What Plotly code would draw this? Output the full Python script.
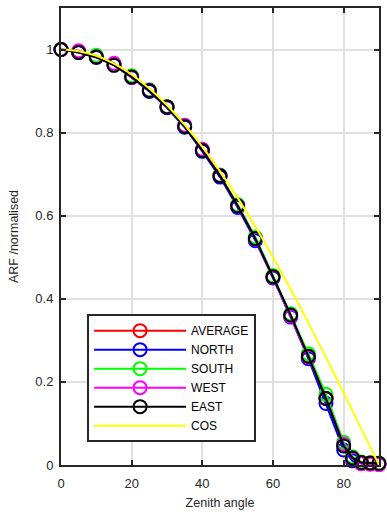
import plotly.graph_objects as go

angles = [0, 5, 10, 15, 20, 25, 30, 35, 40, 45, 50, 55, 60, 65, 70, 75, 80, 82.5, 85, 87.5, 90]
average = [1.0, 0.994, 0.982, 0.964, 0.934, 0.902, 0.862, 0.815, 0.758, 0.696, 0.624, 0.545, 0.453, 0.360, 0.262, 0.160, 0.048, 0.018, 0.006, 0.005, 0.003]
north = [1.0, 0.993, 0.981, 0.963, 0.933, 0.899, 0.860, 0.813, 0.755, 0.693, 0.620, 0.540, 0.450, 0.356, 0.256, 0.148, 0.036, 0.010, 0.004, 0.003, 0.002]
south = [1.0, 0.995, 0.986, 0.965, 0.937, 0.903, 0.863, 0.816, 0.759, 0.698, 0.627, 0.549, 0.456, 0.364, 0.268, 0.170, 0.055, 0.020, 0.007, 0.005, 0.004]
west = [1.0, 0.997, 0.982, 0.967, 0.933, 0.902, 0.862, 0.818, 0.760, 0.697, 0.624, 0.544, 0.452, 0.358, 0.260, 0.160, 0.050, 0.015, 0.003, 0.002, 0.001]
east = [1.0, 0.993, 0.982, 0.962, 0.934, 0.901, 0.862, 0.815, 0.757, 0.696, 0.624, 0.545, 0.453, 0.361, 0.262, 0.160, 0.046, 0.017, 0.006, 0.005, 0.004]

cos_angles = [0, 5, 10, 15, 20, 25, 30, 35, 40, 45, 50, 55, 60, 65, 70, 75, 80, 85, 90]
cos_values = [1.0, 0.996, 0.985, 0.966, 0.940, 0.906, 0.866, 0.819, 0.766, 0.707, 0.643, 0.574, 0.500, 0.423, 0.342, 0.259, 0.174, 0.087, 0.0]

series = [
    ("AVERAGE", average, "#ff0000"),
    ("NORTH", north, "#0000ff"),
    ("SOUTH", south, "#00ff00"),
    ("WEST", west, "#ff00ff"),
    ("EAST", east, "#000000"),
]

fig = go.Figure()
for name, vals, col in series:
    fig.add_trace(go.Scatter(
        x=angles, y=vals, name=name, mode="lines+markers",
        line=dict(color=col, width=2),
        marker=dict(symbol="circle-open", size=13, color=col, line=dict(width=2, color=col)),
        cliponaxis=False,
    ))
fig.add_trace(go.Scatter(
    x=cos_angles, y=cos_values, name="COS", mode="lines",
    line=dict(color="#ffff00", width=2), line_shape="spline",
    cliponaxis=False,
))

axis_common = dict(
    showline=True, linecolor="#262626", linewidth=2, mirror="allticks",
    ticks="inside", ticklen=5, tickwidth=2, tickcolor="#262626",
    showgrid=True, gridcolor="#e0e0e0", gridwidth=2,
    zeroline=False, tickfont=dict(size=13, color="#262626"),
)

fig.update_layout(
    width=387, height=518,
    margin=dict(l=61, r=8, t=6, b=53),
    paper_bgcolor="white", plot_bgcolor="white",
    font=dict(family="Liberation Sans, Arial, sans-serif", size=12, color="#262626"),
    xaxis=dict(range=[0, 90], tickvals=[0, 20, 40, 60, 80], ticklabelstandoff=5,
               title=dict(text="Zenith angle", standoff=9, font=dict(size=12.5)), **axis_common),
    yaxis=dict(range=[0, 1.1], tickvals=[0, 0.2, 0.4, 0.6, 0.8, 1],
               ticktext=["0", "0.2", "0.4", "0.6", "0.8", "1"], ticklabelstandoff=3,
               title=dict(text="ARF /normalised", standoff=14, font=dict(size=12.5)), **axis_common),
    legend=dict(x=0.082, y=0.05, xanchor="left", yanchor="bottom",
                bgcolor="white", bordercolor="#262626", borderwidth=2,
                font=dict(size=12, color="#000000"), itemwidth=92, tracegroupgap=0),
    showlegend=True,
)

fig.write_html("out.html", config={"displayModeBar": False},
               post_script="document.body.style.margin='0px';document.body.style.padding='0px';")
